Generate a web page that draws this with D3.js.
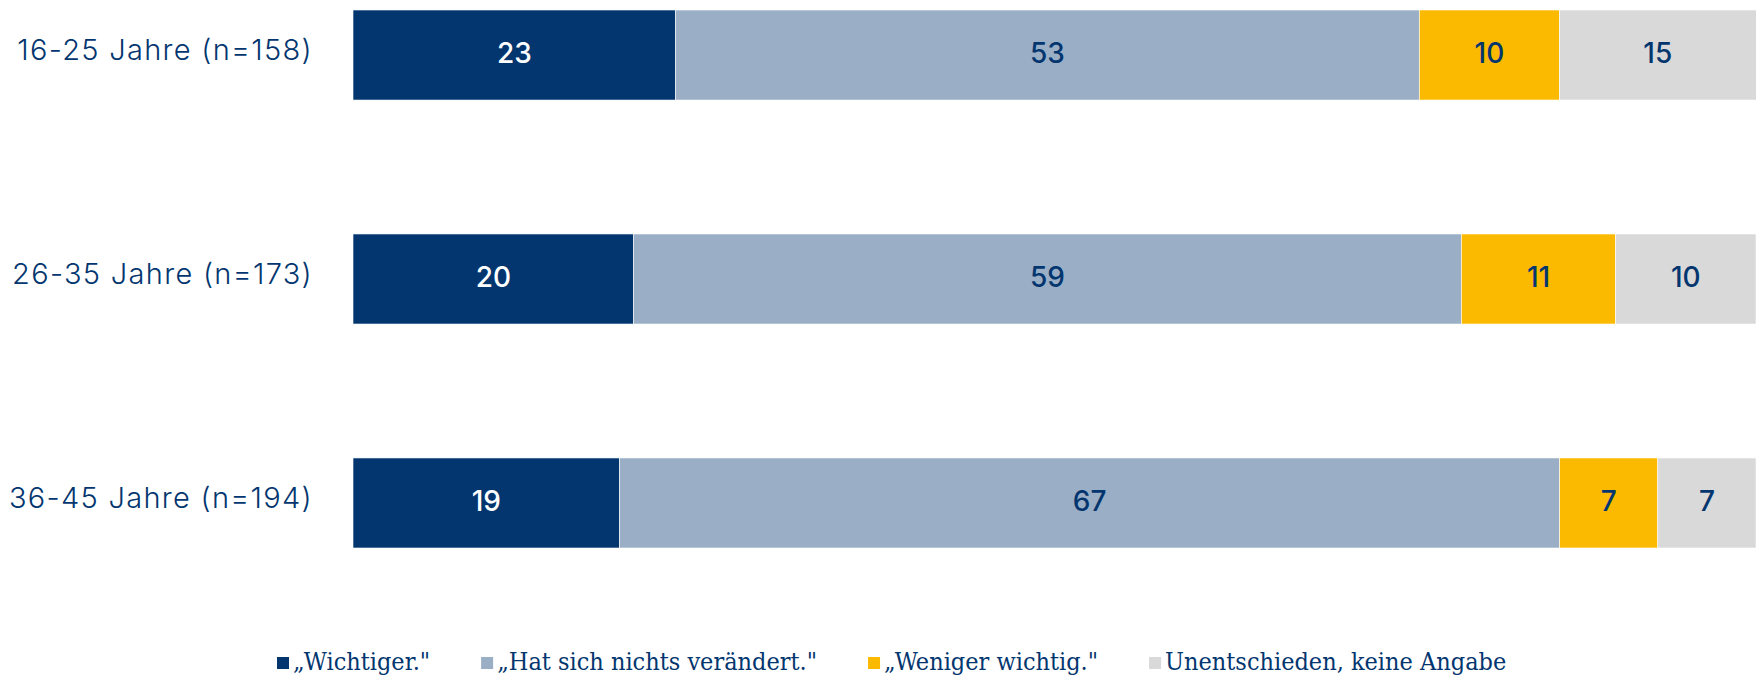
<!DOCTYPE html>
<html>
<head>
<meta charset="utf-8">
<script src="https://cdn.jsdelivr.net/npm/d3@7"></script>
<style>
  body { margin: 0; background: #fff; }
  svg { display: block; }
</style>
</head>
<body>
<svg id="chart"></svg>
<script>
// data
var groups = ["16-25 Jahre (n=158)", "26-35 Jahre (n=173)", "36-45 Jahre (n=194)"]
var seriesNames = ["\u201eWichtiger.\"", "\u201eHat sich nichts ver\u00e4ndert.\"", "\u201eWeniger wichtig.\"", "Unentschieden, keine Angabe"]
var wichtiger = [23, 20, 19]
var unveraendert = [53, 59, 67]
var weniger = [10, 11, 7]
var unentschieden = [15, 10, 7]

var colors = ["#03366f", "#9aafc6", "#fbba00", "#d9d9d9"]
var labelColors = ["#ffffff", "#03366f", "#03366f", "#03366f"]

var width = 1756
var height = 678

var svg = d3.select("#chart")
  .attr("width", width)
  .attr("height", height)

var rows = groups.map(function(g, i) {
  return { group: g, values: [wichtiger[i], unveraendert[i], weniger[i], unentschieden[i]] }
})

var x = d3.scaleLinear().domain([0, 100]).range([353, 1756])
var y = d3.scaleBand().domain(groups).range([10, 548]).paddingInner(0.598).paddingOuter(0)

// stacked segments
var segs = []
rows.forEach(function(r) {
  var start = 0
  r.values.forEach(function(v, k) {
    segs.push({ group: r.group, k: k, x0: start, x1: start + v, v: v })
    start += v
  })
})

var bars = svg.append("g")
bars.selectAll("rect")
  .data(segs)
  .enter()
  .append("rect")
  .attr("x", d => x(d.x0))
  .attr("y", d => y(d.group))
  .attr("width", d => x(d.x1) - x(d.x0))
  .attr("height", y.bandwidth())
  .attr("fill", d => colors[d.k])
  .attr("stroke", "#ffffff")
  .attr("stroke-width", 0.6)

bars.selectAll("text")
  .data(segs)
  .enter()
  .append("text")
  .attr("x", d => (x(d.x0) + Math.min(x(d.x1), width)) / 2)
  .attr("y", d => y(d.group) + y.bandwidth() / 2 - 2)
  .attr("dy", "0.36em")
  .attr("text-anchor", "middle")
  .attr("font-family", "Inter, Lato, sans-serif")
  .attr("font-weight", 500)
  .attr("font-size", 28)
  .attr("fill", d => labelColors[d.k])
  .text(d => d.v)

// category labels
svg.append("g")
  .selectAll("text")
  .data(groups)
  .enter()
  .append("text")
  .attr("x", 313)
  .attr("y", d => y(d) + y.bandwidth() / 2 - 5)
  .attr("dy", "0.36em")
  .attr("text-anchor", "end")
  .attr("font-family", "Inter, Lato, sans-serif")
  .attr("font-weight", 300)
  .attr("font-size", 29)
  .attr("letter-spacing", 1.3)
  .attr("fill", "#03366f")
  .text(d => d)

// legend
var legend = svg.append("g")
var lx = 277
seriesNames.forEach(function(name, k) {
  legend.append("rect")
    .attr("x", lx)
    .attr("y", 657)
    .attr("width", 12)
    .attr("height", 12)
    .attr("fill", colors[k])
  var t = legend.append("text")
    .attr("x", lx + 16)
    .attr("y", 670)
    .attr("font-family", "'DejaVu Serif', serif")
    .attr("font-stretch", "condensed")
    .attr("font-size", 25)
    .attr("fill", "#03366f")
    .text(name)
  lx += 16 + t.node().getComputedTextLength() + 51
})
</script>
</body>
</html>
